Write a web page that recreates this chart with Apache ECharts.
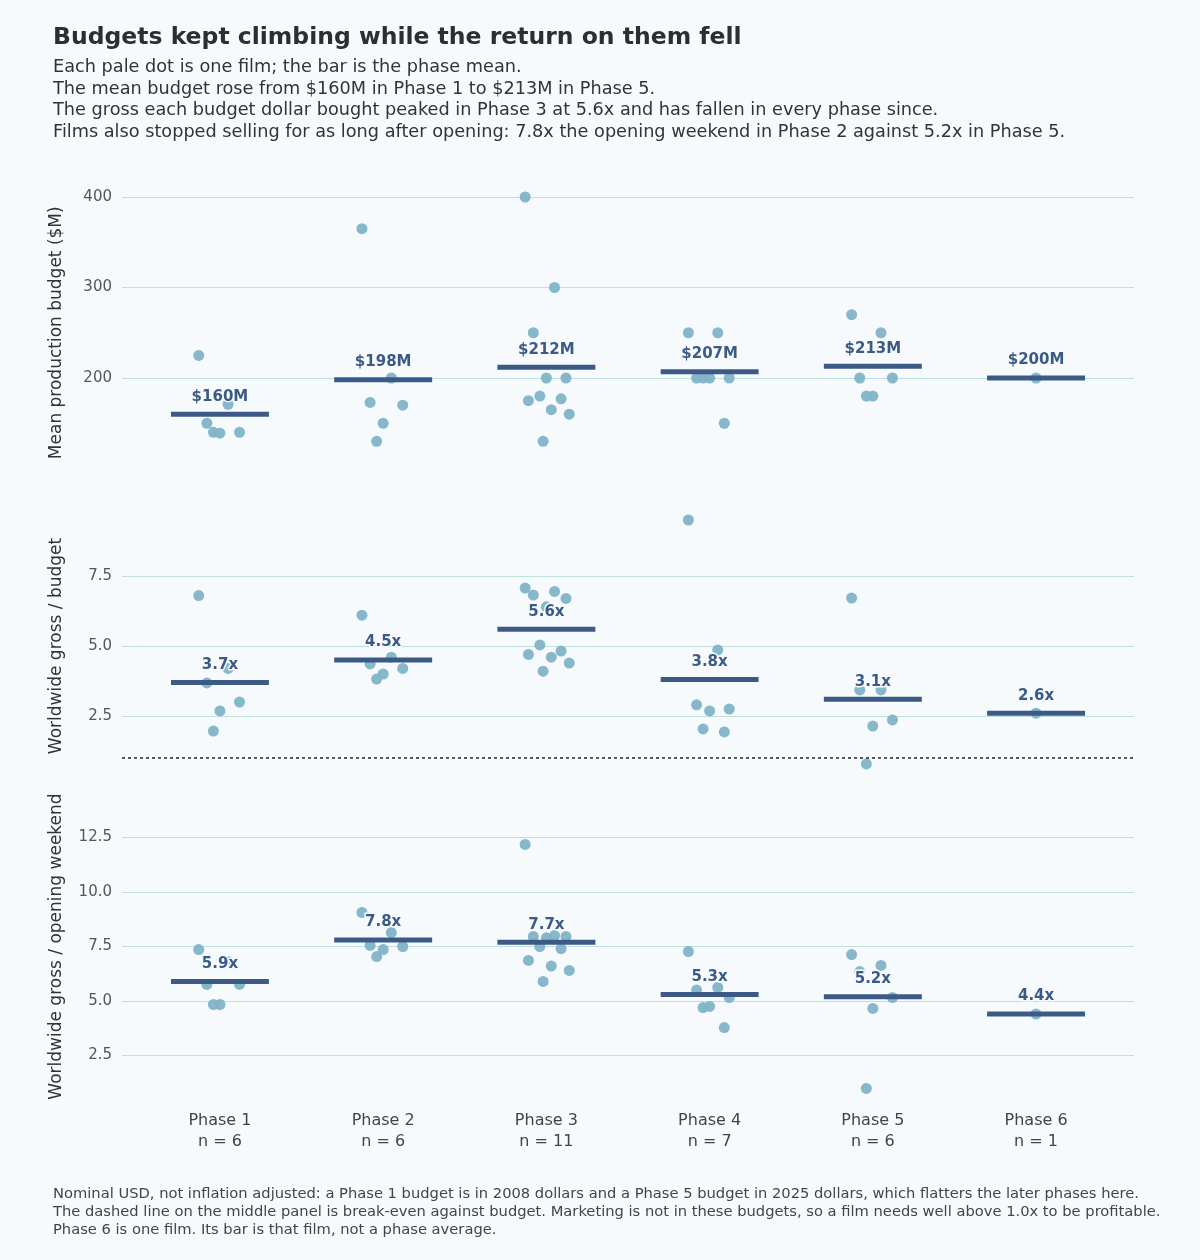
<!DOCTYPE html>
<html><head><meta charset="utf-8">
<script src="https://cdn.jsdelivr.net/npm/echarts@6/dist/echarts.min.js"></script>
<style>html,body{margin:0;padding:0;background:#f7fafc;}#c{width:1200px;height:1260px;}</style>
</head><body><div id="c"></div>
<script>
const phases = ['Phase 1','Phase 2','Phase 3','Phase 4','Phase 5','Phase 6'];
const counts = [6,6,11,7,6,1];
const budget = [
  [225,171,150,140,139,140],
  [365,200,173,170,150,130],
  [400,300,250,200,200,180,177,175,165,160,130],
  [250,250,200,200,200,200,150],
  [270,250,200,200,180,180],
  [200]
];
const budgetMean = [160,198,212,207,213,200];
const grossPerBudget = [
  [6.8,4.2,3.68,3.0,2.68,1.96],
  [6.1,4.6,4.36,4.2,4.0,3.82],
  [7.07,6.95,6.82,6.7,6.4,5.04,4.82,4.7,4.6,4.39,4.1],
  [9.5,4.86,2.9,2.75,2.68,2.04,1.93],
  [6.71,3.43,3.43,2.36,2.14,0.79],
  [2.6]
];
const gpbMean = [3.7,4.5,5.6,3.8,3.1,2.6];
const grossPerOpening = [
  [7.36,6.8,5.76,5.76,4.84,4.84],
  [9.06,8.14,7.55,7.5,7.36,7.04],
  [12.18,8.0,7.96,7.96,7.9,7.5,7.4,6.86,6.6,6.4,5.9],
  [7.27,5.62,5.5,5.16,4.75,4.7,3.78],
  [7.13,6.63,6.35,5.16,4.66,0.99],
  [4.4]
];
const gpoMean = [5.9,7.8,7.7,5.3,5.2,4.4];

const jit = [-0.13,0.05,-0.08,0.12,0.0,-0.04,0.09,-0.11,0.03,0.14,-0.02];
function dots(arr){const out=[];arr.forEach((vs,i)=>vs.forEach((v,k)=>out.push([vs.length>1?i+jit[k%jit.length]:i,v])));return out;}

const FONT='DejaVu Sans';
const dotColor='#7fb3c8', barColor='#3b5b86', gridColor='#bfe0dc';
const grids=[{top:197,height:271.5},{top:506,height:280},{top:783,height:327}];
const yCfg=[
  {min:100,max:400,interval:100,name:'Mean production budget ($M)',fmt:v=>v===100?'':String(v)},
  {min:0,max:10,interval:2.5,name:'Worldwide gross / budget',fmt:v=>(v===0||v===10)?'':v.toFixed(1)},
  {min:0,max:15,interval:2.5,name:'Worldwide gross / opening weekend',fmt:v=>(v===0||v===15)?'':v.toFixed(1)}
];
const means=[budgetMean,gpbMean,gpoMean];
const vals=[budget,grossPerBudget,grossPerOpening];
const lbl=[v=>'$'+v+'M',v=>v.toFixed(1)+'x',v=>v.toFixed(1)+'x'];

const option={
  backgroundColor:'#f7fafc',
  animation:false,
  title:{left:48,top:21,text:'Budgets kept climbing while the return on them fell',
    textStyle:{fontFamily:FONT,fontSize:23.5,fontWeight:'bold',color:'#2a2f33'},
    subtext:'Each pale dot is one film; the bar is the phase mean.\nThe mean budget rose from $160M in Phase 1 to $213M in Phase 5.\nThe gross each budget dollar bought peaked in Phase 3 at 5.6x and has fallen in every phase since.\nFilms also stopped selling for as long after opening: 7.8x the opening weekend in Phase 2 against 5.2x in Phase 5.',
    subtextStyle:{fontFamily:FONT,fontSize:17.7,color:'#333',lineHeight:21.5},itemGap:7},
  graphic:[{type:'text',left:53,top:1185,style:{text:'Nominal USD, not inflation adjusted: a Phase 1 budget is in 2008 dollars and a Phase 5 budget in 2025 dollars, which flatters the later phases here.\nThe dashed line on the middle panel is break-even against budget. Marketing is not in these budgets, so a film needs well above 1.0x to be profitable.\nPhase 6 is one film. Its bar is that film, not a phase average.',
    font:'14.7px "DejaVu Sans"',fill:'#444',lineHeight:18}}],
  grid:grids.map(g=>({left:122,right:66,top:g.top,height:g.height})),
  xAxis:grids.map((g,i)=>({type:'value',gridIndex:i,min:-0.6,max:5.6,
    axisLine:{show:false},axisTick:{show:false},splitLine:{show:false},
    axisLabel:i===2?{show:true,customValues:[0,1,2,3,4,5],formatter:v=>phases[Math.round(v)]+'\nn = '+counts[Math.round(v)],
      fontFamily:FONT,fontSize:16,color:'#444',lineHeight:21,margin:0}:{show:false}})),
  yAxis:yCfg.map((c,i)=>({type:'value',gridIndex:i,min:c.min,max:c.max,interval:c.interval,
    name:c.name,nameLocation:'middle',nameGap:57,nameTextStyle:{fontFamily:FONT,fontSize:17,color:'#333'},
    axisLine:{show:false},axisTick:{show:false},
    axisLabel:{formatter:c.fmt,fontFamily:FONT,fontSize:15,color:'#555',margin:10},
    splitLine:{show:true,showMinLine:false,showMaxLine:i===0,lineStyle:{color:gridColor,width:1.2}}})),
  series:[]
};
for(let p=0;p<3;p++){
  option.series.push({type:'scatter',xAxisIndex:p,yAxisIndex:p,data:dots(vals[p]),symbolSize:11,
    itemStyle:{color:dotColor,opacity:0.95},z:2,
    markLine:p===1?{silent:true,symbol:'none',label:{show:false},lineStyle:{color:'#222',type:[3,3],width:1.5},data:[{yAxis:1}]}:undefined});
  option.series.push({type:'custom',xAxisIndex:p,yAxisIndex:p,z:3,data:means[p].map((m,i)=>[i,m]),
    renderItem:(params,api)=>{
      const i=api.value(0),m=api.value(1);
      const a=api.coord([i-0.3,m]),b=api.coord([i+0.3,m]);
      return {type:'group',children:[
        {type:'rect',shape:{x:a[0],y:a[1]-2.5,width:b[0]-a[0],height:5},style:{fill:barColor}},
        {type:'text',x:(a[0]+b[0])/2,y:a[1]-10,style:{text:lbl[p](m),textAlign:'center',textVerticalAlign:'bottom',
          font:'bold 15px "DejaVu Sans"',fill:barColor,stroke:'#f7fafc',lineWidth:3}}]};
    }});
}
echarts.init(document.getElementById('c')).setOption(option);
</script></body></html>
